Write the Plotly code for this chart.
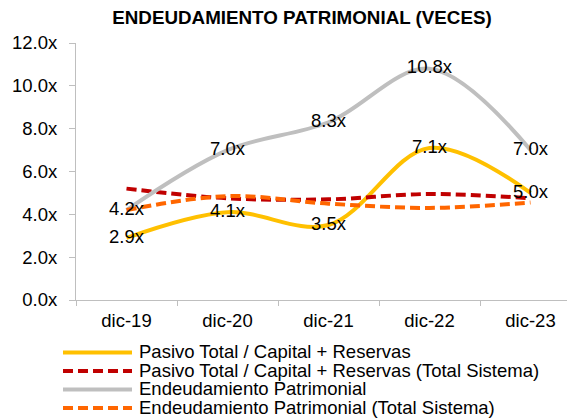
import plotly.graph_objects as go

# ---- data ----
categories = ["dic-19", "dic-20", "dic-21", "dic-22", "dic-23"]
pasivo_total = [2.9, 4.1, 3.5, 7.1, 5.0]
pasivo_total_sistema = [5.2, 4.75, 4.7, 4.95, 4.75]
endeudamiento = [4.2, 7.0, 8.3, 10.8, 7.0]
endeudamiento_sistema = [4.2, 4.85, 4.5, 4.3, 4.55]

series_names = [
    "Pasivo Total / Capital + Reservas",
    "Pasivo Total / Capital + Reservas (Total Sistema)",
    "Endeudamiento Patrimonial",
    "Endeudamiento Patrimonial (Total Sistema)",
]
y_ticks = [0, 2, 4, 6, 8, 10, 12]
y_tick_text = [f"{v:.1f}x" for v in y_ticks]

# ---- style ----
FONT = "Liberation Sans, Arial, sans-serif"
FS = 18.5
colors = ["#FFC000", "#C00000", "#BFBFBF", "#FF6600"]
dashes = ["solid", "10px,5px", "solid", "10px,5px"]
values = [pasivo_total, pasivo_total_sistema, endeudamiento, endeudamiento_sistema]
labelled = [True, False, True, False]

OFF = 8  # page body margin
W, H = 575 - OFF, 420 - OFF
L, R, T, B = 76 - OFF, 0, 43 - OFF, 120
PW, PH = W - L - R, H - T - B


def px_x(p):
    # p in screen pixels
    return (p - OFF - L) / PW


def px_y(p):
    return (H - B - (p - OFF)) / PH


fig = go.Figure()
for name, vals, col, dash in zip(series_names, values, colors, dashes):
    fig.add_trace(go.Scatter(
        x=categories, y=vals, name=name, mode="lines",
        line=dict(color=col, width=4, dash=dash, shape="spline", smoothing=1.0),
        showlegend=False, hoverinfo="skip",
    ))

# data labels on top
for vals, lab in zip(values, labelled):
    if lab:
        fig.add_trace(go.Scatter(
            x=categories, y=vals, mode="text",
            text=[f"{v:.1f}x" for v in vals],
            textposition="middle center",
            textfont=dict(family=FONT, size=FS, color="#000000"),
            showlegend=False, hoverinfo="skip",
        ))

# manual legend
row_y = [352.5, 371, 389.5, 408]
shapes = []
annotations = []
for name, col, dash, ry in zip(series_names, colors, dashes, row_y):
    shapes.append(dict(
        type="line", xref="paper", yref="paper",
        x0=px_x(63), x1=px_x(132), y0=px_y(ry), y1=px_y(ry),
        line=dict(color=col, width=4, dash=dash),
    ))
    annotations.append(dict(
        xref="paper", yref="paper", x=px_x(137), y=px_y(ry - 1),
        xanchor="left", yanchor="middle", text=name, showarrow=False,
        font=dict(family=FONT, size=FS, color="#000000"),
    ))

fig.update_layout(
    width=W, height=H,
    margin=dict(l=L, r=R, t=T, b=B),
    paper_bgcolor="white", plot_bgcolor="white",
    title=dict(
        text="<b>ENDEUDAMIENTO PATRIMONIAL (VECES)</b>",
        font=dict(family=FONT, size=18.8, color="#000000"),
        xref="container", yref="container",
        x=(302 - OFF) / W, y=1 - (17 - OFF) / H, xanchor="center", yanchor="middle",
    ),
    showlegend=False,
    shapes=shapes,
    annotations=annotations,
    xaxis=dict(
        type="category", range=[-0.5, -0.5 + PW / 101],
        showline=True, linecolor="#BFBFBF", linewidth=1,
        ticks="outside", tickson="boundaries", ticklen=5, tickcolor="#BFBFBF",
        showgrid=False, zeroline=False,
        tickfont=dict(family=FONT, size=FS, color="#000000"),
        ticklabelstandoff=4,
    ),
    yaxis=dict(
        range=[0, 12], tickvals=y_ticks, ticktext=y_tick_text,
        showline=True, linecolor="#BFBFBF", linewidth=1,
        ticks="outside", ticklen=6, tickcolor="#BFBFBF",
        showgrid=False, zeroline=False,
        tickfont=dict(family=FONT, size=FS, color="#000000"),
        ticklabelstandoff=8,
    ),
)

fig.write_html("out.html")
